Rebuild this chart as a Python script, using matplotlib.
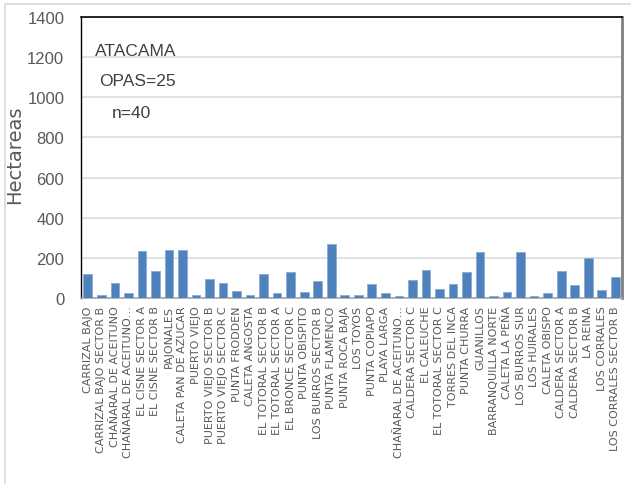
import matplotlib
matplotlib.use("Agg")
import matplotlib.pyplot as plt
from matplotlib.patches import Rectangle

sitios = ["CARRIZAL BAJO", "CARRIZAL BAJO SECTOR B", "CHAÑARAL DE ACEITUNO",
          "CHAÑARAL DE ACEITUNO…", "EL CISNE SECTOR A", "EL CISNE SECTOR B",
          "PAJONALES", "CALETA PAN DE AZUCAR", "PUERTO VIEJO",
          "PUERTO VIEJO SECTOR B", "PUERTO VIEJO SECTOR C", "PUNTA FRODDEN",
          "CALETA ANGOSTA", "EL TOTORAL SECTOR B", "EL TOTORAL SECTOR A",
          "EL BRONCE SECTOR C", "PUNTA OBISPITO", "LOS BURROS SECTOR B",
          "PUNTA FLAMENCO", "PUNTA ROCA BAJA", "LOS TOYOS", "PUNTA COPIAPO",
          "PLAYA LARGA", "CHAÑARAL DE ACEITUNO…", "CALDERA SECTOR C",
          "EL CALEUCHE", "EL TOTORAL SECTOR C", "TORRES DEL INCA",
          "PUNTA CHURRA", "GUANILLOS", "BARRANQUILLA NORTE", "CALETA LA PEÑA",
          "LOS BURROS SUR", "LOS HUIRALES", "CALETA OBISPO", "CALDERA SECTOR A",
          "CALDERA SECTOR B", "LA REINA", "LOS CORRALES", "LOS CORRALES SECTOR B"]
hectareas = [120, 15, 78, 25, 235, 137, 243, 240, 15, 97,
             75, 38, 15, 122, 25, 130, 32, 85, 270, 15,
             18, 70, 25, 10, 92, 142, 48, 72, 133, 230,
             12, 32, 230, 12, 25, 137, 67, 203, 43, 107]
y_ticks = [0, 200, 400, 600, 800, 1000, 1200, 1400]
notas = ["ATACAMA", "OPAS=25", "n=40"]

fuente = ["Liberation Sans", "DejaVu Sans"]
gris = "#595959"

fig = plt.figure(figsize=(6.31, 4.85), dpi=100)
fig.patches.append(Rectangle((5 / 631, -0.1), 1.2, 1.1 - 4.5 / 485,
                             transform=fig.transFigure, fill=False,
                             edgecolor="#d9d9d9", linewidth=1.2))
ax = fig.add_axes([0.1284, 0.3825, 0.8574, 0.5814])

x = range(len(sitios))
ax.bar(x, hectareas, width=0.64, color="#4f81bd", edgecolor="#86acd9",
       linewidth=0.6, zorder=3)

ax.set_xlim(-0.5, len(sitios) - 0.5)
ax.set_ylim(0, 1400)
ax.set_yticks(y_ticks)
ax.set_yticklabels([str(v) for v in y_ticks], family=fuente, fontsize=12,
                   color=gris)
ax.set_xticks(list(x))
ax.set_xticklabels(sitios, rotation=90, fontsize=8, color=gris,
                   family="DejaVu Sans")
ax.tick_params(axis="y", length=0, pad=12)
ax.tick_params(axis="x", length=0, pad=5)
ax.yaxis.grid(True, color="#d9d9d9", linewidth=1.1, zorder=0)

ax.spines["left"].set_color("black")
ax.spines["left"].set_linewidth(1.0)
ax.spines["top"].set_color("black")
ax.spines["top"].set_linewidth(1.2)
ax.spines["right"].set_color("#808080")
ax.spines["right"].set_linewidth(2)
ax.spines["bottom"].set_color("#a6a6a6")
ax.spines["bottom"].set_linewidth(1.2)

ax.set_ylabel("Hectareas", fontsize=14, color=gris, family="DejaVu Sans")
ax.yaxis.set_label_coords(-0.105, 0.512)

pos = [(0.026, 0.879), (0.033, 0.773), (0.057, 0.66)]
for t, (px, py) in zip(notas, pos):
    ax.text(px, py, t, transform=ax.transAxes, ha="left", va="center",
            fontsize=12.5, color="#404040", family=fuente)

fig.savefig("out.png", dpi=100)
